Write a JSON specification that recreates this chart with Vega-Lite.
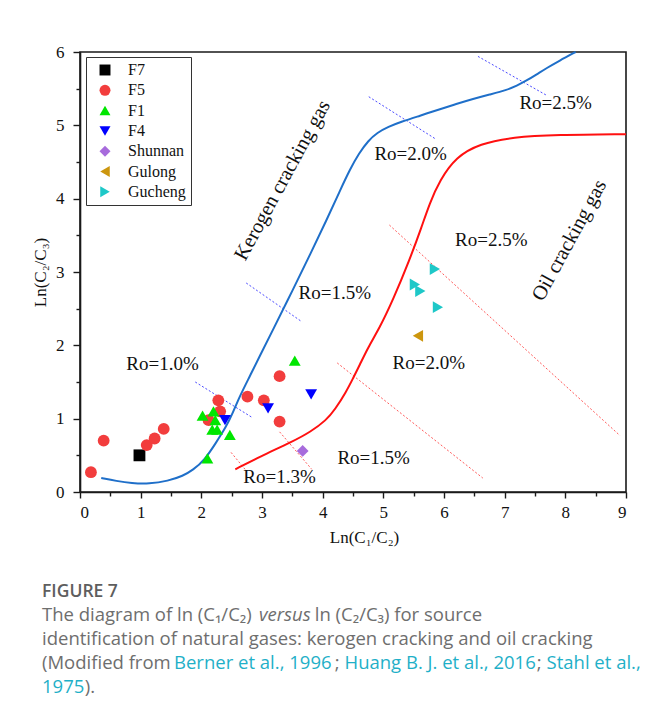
{
  "$schema": "https://vega.github.io/schema/vega-lite/v6.json",
  "width": 546,
  "height": 440,
  "autosize": {"type": "none"},
  "padding": {"left": 80, "top": 52, "right": 20, "bottom": 225},
  "background": "white",
  "config": {
    "view": {"stroke": "#1a1a1a", "strokeWidth": 1.6},
    "font": "Liberation Serif"
  },
  "datasets": {
    "points": [
      {"group": "F7", "x": 0.98, "y": 0.50},
      {"group": "F5", "x": 0.18, "y": 0.27},
      {"group": "F5", "x": 0.39, "y": 0.70},
      {"group": "F5", "x": 1.10, "y": 0.64},
      {"group": "F5", "x": 1.23, "y": 0.73},
      {"group": "F5", "x": 1.38, "y": 0.86},
      {"group": "F5", "x": 2.12, "y": 0.98},
      {"group": "F5", "x": 2.28, "y": 1.25},
      {"group": "F5", "x": 2.31, "y": 1.10},
      {"group": "F5", "x": 2.76, "y": 1.30},
      {"group": "F5", "x": 3.03, "y": 1.25},
      {"group": "F5", "x": 3.29, "y": 1.58},
      {"group": "F5", "x": 3.29, "y": 0.96},
      {"group": "F1", "x": 2.02, "y": 1.04},
      {"group": "F1", "x": 2.20, "y": 1.10},
      {"group": "F1", "x": 2.23, "y": 0.98},
      {"group": "F1", "x": 2.18, "y": 0.85},
      {"group": "F1", "x": 2.26, "y": 0.85},
      {"group": "F1", "x": 2.47, "y": 0.78},
      {"group": "F1", "x": 2.10, "y": 0.46},
      {"group": "F1", "x": 3.54, "y": 1.79},
      {"group": "F4", "x": 2.39, "y": 0.98},
      {"group": "F4", "x": 3.10, "y": 1.14},
      {"group": "F4", "x": 3.81, "y": 1.33},
      {"group": "Shunnan", "x": 3.67, "y": 0.56},
      {"group": "Gulong", "x": 5.57, "y": 2.13},
      {"group": "Gucheng", "x": 5.85, "y": 3.04},
      {"group": "Gucheng", "x": 5.52, "y": 2.83},
      {"group": "Gucheng", "x": 5.61, "y": 2.74},
      {"group": "Gucheng", "x": 5.90, "y": 2.52}
    ],
    "curves": [
      {"curve": "kerogen", "x": 0.35, "y": 0.19},
      {"curve": "kerogen", "x": 0.6, "y": 0.15},
      {"curve": "kerogen", "x": 0.85, "y": 0.12},
      {"curve": "kerogen", "x": 1.14, "y": 0.11},
      {"curve": "kerogen", "x": 1.45, "y": 0.15},
      {"curve": "kerogen", "x": 1.7, "y": 0.22},
      {"curve": "kerogen", "x": 1.86, "y": 0.30},
      {"curve": "kerogen", "x": 2.05, "y": 0.43},
      {"curve": "kerogen", "x": 2.24, "y": 0.67},
      {"curve": "kerogen", "x": 2.41, "y": 0.89},
      {"curve": "kerogen", "x": 2.52, "y": 1.08},
      {"curve": "kerogen", "x": 2.63, "y": 1.30},
      {"curve": "kerogen", "x": 2.8, "y": 1.58},
      {"curve": "kerogen", "x": 2.96, "y": 1.85},
      {"curve": "kerogen", "x": 3.18, "y": 2.21},
      {"curve": "kerogen", "x": 3.51, "y": 2.76},
      {"curve": "kerogen", "x": 3.8, "y": 3.25},
      {"curve": "kerogen", "x": 4.06, "y": 3.70},
      {"curve": "kerogen", "x": 4.28, "y": 4.10},
      {"curve": "kerogen", "x": 4.45, "y": 4.40},
      {"curve": "kerogen", "x": 4.6, "y": 4.62},
      {"curve": "kerogen", "x": 4.75, "y": 4.79},
      {"curve": "kerogen", "x": 4.9, "y": 4.90},
      {"curve": "kerogen", "x": 5.08, "y": 4.98},
      {"curve": "kerogen", "x": 5.3, "y": 5.05},
      {"curve": "kerogen", "x": 5.6, "y": 5.13},
      {"curve": "kerogen", "x": 5.93, "y": 5.22},
      {"curve": "kerogen", "x": 6.2, "y": 5.29},
      {"curve": "kerogen", "x": 6.48, "y": 5.36},
      {"curve": "kerogen", "x": 6.75, "y": 5.42},
      {"curve": "kerogen", "x": 7.03, "y": 5.48},
      {"curve": "kerogen", "x": 7.2, "y": 5.54},
      {"curve": "kerogen", "x": 7.36, "y": 5.61},
      {"curve": "kerogen", "x": 7.52, "y": 5.69},
      {"curve": "kerogen", "x": 7.69, "y": 5.78},
      {"curve": "kerogen", "x": 7.9, "y": 5.88},
      {"curve": "kerogen", "x": 8.17, "y": 6.0},
      {"curve": "oil", "x": 2.56, "y": 0.31},
      {"curve": "oil", "x": 2.96, "y": 0.48},
      {"curve": "oil", "x": 3.51, "y": 0.69},
      {"curve": "oil", "x": 3.8, "y": 0.82},
      {"curve": "oil", "x": 4.06, "y": 0.98},
      {"curve": "oil", "x": 4.2, "y": 1.12},
      {"curve": "oil", "x": 4.39, "y": 1.37},
      {"curve": "oil", "x": 4.5, "y": 1.55},
      {"curve": "oil", "x": 4.61, "y": 1.73},
      {"curve": "oil", "x": 4.74, "y": 1.96},
      {"curve": "oil", "x": 4.94, "y": 2.24},
      {"curve": "oil", "x": 5.16, "y": 2.62},
      {"curve": "oil", "x": 5.43, "y": 3.16},
      {"curve": "oil", "x": 5.63, "y": 3.61},
      {"curve": "oil", "x": 5.76, "y": 3.93},
      {"curve": "oil", "x": 5.93, "y": 4.25},
      {"curve": "oil", "x": 6.2, "y": 4.57},
      {"curve": "oil", "x": 6.59, "y": 4.75},
      {"curve": "oil", "x": 7.14, "y": 4.84},
      {"curve": "oil", "x": 7.85, "y": 4.87},
      {"curve": "oil", "x": 9.0, "y": 4.88}
    ],
    "guides": [
      {"family": "kerogen", "id": "k10", "x": 1.90, "y": 1.50},
      {"family": "kerogen", "id": "k10", "x": 2.85, "y": 1.01},
      {"family": "kerogen", "id": "k15", "x": 2.74, "y": 2.85},
      {"family": "kerogen", "id": "k15", "x": 3.66, "y": 2.32},
      {"family": "kerogen", "id": "k20", "x": 4.76, "y": 5.39},
      {"family": "kerogen", "id": "k20", "x": 5.85, "y": 4.82},
      {"family": "kerogen", "id": "k25", "x": 6.56, "y": 5.94},
      {"family": "kerogen", "id": "k25", "x": 7.69, "y": 5.41},
      {"family": "oil", "id": "o13a", "x": 2.49, "y": 0.54},
      {"family": "oil", "id": "o13a", "x": 2.72, "y": 0.31},
      {"family": "oil", "id": "o13b", "x": 3.29, "y": 0.82},
      {"family": "oil", "id": "o13b", "x": 3.82, "y": 0.31},
      {"family": "oil", "id": "o15", "x": 4.24, "y": 1.76},
      {"family": "oil", "id": "o15", "x": 6.64, "y": 0.19},
      {"family": "oil", "id": "o20", "x": 5.10, "y": 3.64},
      {"family": "oil", "id": "o20", "x": 8.90, "y": 0.77}
    ],
    "labels": [
      {"text": "Ro=1.0%", "x": 1.36, "y": 1.75},
      {"text": "Ro=1.5%", "x": 4.20, "y": 2.72},
      {"text": "Ro=2.0%", "x": 5.45, "y": 4.61},
      {"text": "Ro=2.5%", "x": 7.84, "y": 5.30},
      {"text": "Ro=1.3%", "x": 3.29, "y": 0.20},
      {"text": "Ro=1.5%", "x": 4.84, "y": 0.47},
      {"text": "Ro=2.0%", "x": 5.75, "y": 1.76},
      {"text": "Ro=2.5%", "x": 6.78, "y": 3.43}
    ],
    "zones": [
      {"text": "Kerogen cracking gas", "x": 3.34, "y": 4.25},
      {"text": "Oil cracking gas", "x": 8.07, "y": 3.43}
    ],
    "caption": [
      {"kind": "heading", "text": "FIGURE 7", "x": -0.626, "y": -1.428},
      {"kind": "body", "text": "The diagram of ln (C₁/C₂)", "x": -0.626, "y": -1.755},
      {"kind": "italic", "text": "versus", "x": 2.95, "y": -1.755},
      {"kind": "body", "text": "ln (C₂/C₃) for source", "x": 3.87, "y": -1.755},
      {"kind": "body", "text": "identification of natural gases: kerogen cracking and oil cracking", "x": -0.626, "y": -2.087},
      {"kind": "body", "text": "(Modified from", "x": -0.626, "y": -2.418},
      {"kind": "cite", "text": "Berner et al., 1996", "x": 1.55, "y": -2.418},
      {"kind": "body", "text": ";", "x": 4.2, "y": -2.418},
      {"kind": "cite", "text": "Huang B. J. et al., 2016", "x": 4.36, "y": -2.418},
      {"kind": "body", "text": ";", "x": 7.53, "y": -2.418},
      {"kind": "cite", "text": "Stahl et al.,", "x": 7.69, "y": -2.418},
      {"kind": "cite", "text": "1975", "x": -0.626, "y": -2.745},
      {"kind": "body", "text": ").", "x": 0.08, "y": -2.745}
    ]
  },
  "resolve": {"axis": {"x": "independent", "y": "independent"}},
  "layer": [
    {
      "mark": {"type": "rule", "color": "#dedede", "strokeWidth": 1.2},
      "encoding": {
        "x": {"datum": -1.168, "type": "quantitative", "axis": null},
        "y": {"datum": 6.545, "type": "quantitative", "axis": null},
        "y2": {"datum": -3.2}
      }
    },
    {
      "mark": {"type": "rule", "color": "#dedede", "strokeWidth": 1.2},
      "encoding": {
        "x": {"datum": -1.168, "type": "quantitative", "axis": null},
        "x2": {"datum": 9.5},
        "y": {"datum": 6.545, "type": "quantitative", "axis": null}
      }
    },
    {
      "data": {"name": "guides"},
      "transform": [{"filter": "datum.family === 'kerogen'"}],
      "mark": {"type": "line", "color": "#4a4aff", "strokeWidth": 1, "strokeDash": [2, 2]},
      "encoding": {
        "x": {"field": "x", "type": "quantitative", "scale": {"domain": [0, 9], "nice": false, "zero": false},
          "axis": {"orient": "bottom", "values": [0.5, 1.5, 2.5, 3.5, 4.5, 5.5, 6.5, 7.5, 8.5], "labels": false, "domain": false, "grid": false, "tickSize": 4, "tickColor": "#1a1a1a", "tickWidth": 1.4, "title": null}},
        "y": {"field": "y", "type": "quantitative", "scale": {"domain": [0, 6], "nice": false, "zero": false},
          "axis": {"orient": "left", "values": [0.5, 1.5, 2.5, 3.5, 4.5, 5.5], "labels": false, "domain": false, "grid": false, "tickSize": 4, "tickColor": "#1a1a1a", "tickWidth": 1.4, "title": null}},
        "detail": {"field": "id"}
      }
    },
    {
      "data": {"name": "guides"},
      "transform": [{"filter": "datum.family === 'oil'"}],
      "mark": {"type": "line", "color": "#ff5a5a", "strokeWidth": 1, "strokeDash": [2, 2]},
      "encoding": {
        "x": {"field": "x", "type": "quantitative", "axis": null},
        "y": {"field": "y", "type": "quantitative", "axis": null},
        "detail": {"field": "id"}
      }
    },
    {
      "data": {"name": "curves"},
      "transform": [{"filter": "datum.curve === 'kerogen'"}],
      "mark": {"type": "line", "color": "#1f6fc9", "strokeWidth": 2, "interpolate": "basis"},
      "encoding": {
        "x": {"field": "x", "type": "quantitative", "axis": null},
        "y": {"field": "y", "type": "quantitative", "axis": null}
      }
    },
    {
      "data": {"name": "curves"},
      "transform": [{"filter": "datum.curve === 'oil'"}],
      "mark": {"type": "line", "color": "#ff1010", "strokeWidth": 2, "interpolate": "basis"},
      "encoding": {
        "x": {"field": "x", "type": "quantitative", "axis": null},
        "y": {"field": "y", "type": "quantitative", "axis": null}
      }
    },
    {
      "data": {"name": "labels"},
      "mark": {"type": "text", "font": "Liberation Serif", "fontSize": 19, "color": "#111", "align": "center", "baseline": "middle"},
      "encoding": {
        "x": {"field": "x", "type": "quantitative", "axis": null},
        "y": {"field": "y", "type": "quantitative", "axis": null},
        "text": {"field": "text"}
      }
    },
    {
      "data": {"name": "zones"},
      "mark": {"type": "text", "font": "Liberation Serif", "fontSize": 20.5, "color": "#111", "align": "center", "baseline": "middle", "angle": 298.5},
      "encoding": {
        "x": {"field": "x", "type": "quantitative", "axis": null},
        "y": {"field": "y", "type": "quantitative", "axis": null},
        "text": {"field": "text"}
      }
    },
    {
      "data": {"name": "points"},
      "mark": {"type": "point", "filled": true, "opacity": 1, "size": 140, "strokeWidth": 0},
      "encoding": {
        "x": {"field": "x", "type": "quantitative", "scale": {"domain": [0, 9], "nice": false, "zero": false},
          "axis": {"orient": "bottom", "values": [0, 1, 2, 3, 4, 5, 6, 7, 8, 9], "grid": false, "domainColor": "#1a1a1a", "domainWidth": 1.6, "tickColor": "#1a1a1a", "tickWidth": 1.4, "tickSize": 6, "labelFont": "Liberation Serif", "labelFontSize": 17, "labelColor": "#111", "labelPadding": 6, "title": "Ln(C₁/C₂)", "titleFont": "Liberation Serif", "titleFontSize": 17, "titleFontWeight": "normal", "titleColor": "#111", "titlePadding": 9, "titleX": 284}},
        "y": {"field": "y", "type": "quantitative", "scale": {"domain": [0, 6], "nice": false, "zero": false},
          "axis": {"orient": "left", "values": [0, 1, 2, 3, 4, 5, 6], "grid": false, "domainColor": "#1a1a1a", "domainWidth": 1.6, "tickColor": "#1a1a1a", "tickWidth": 1.4, "tickSize": 7, "labelFont": "Liberation Serif", "labelFontSize": 17, "labelColor": "#111", "labelPadding": 9, "title": "Ln(C₂/C₃)", "titleFont": "Liberation Serif", "titleFontSize": 17, "titleFontWeight": "normal", "titleColor": "#111", "titlePadding": 6}},
        "color": {"field": "group", "type": "nominal",
          "scale": {"domain": ["F7", "F5", "F1", "F4", "Shunnan", "Gulong", "Gucheng"], "range": ["#000000", "#f23d3d", "#00e600", "#0000ff", "#a76bdc", "#cc960e", "#1ec8c8"]},
          "legend": {"orient": "none", "legendX": 6, "legendY": 5, "title": null, "strokeColor": "#333", "fillColor": "white", "padding": 5, "rowPadding": 4.3, "symbolOffset": 6, "labelOffset": 15, "labelFont": "Liberation Serif", "labelFontSize": 16, "labelColor": "#111", "symbolSize": 120, "symbolStrokeWidth": 0, "labelLimit": 200}},
        "shape": {"field": "group", "type": "nominal",
          "scale": {"domain": ["F7", "F5", "F1", "F4", "Shunnan", "Gulong", "Gucheng"], "range": ["square", "circle", "triangle-up", "triangle-down", "diamond", "triangle-left", "triangle-right"]}}
      }
    },
    {
      "data": {"name": "caption"},
      "transform": [{"filter": "datum.kind === 'heading'"}],
      "mark": {"type": "text", "font": "Open Sans", "fontSize": 17.5, "fontWeight": 600, "color": "#5e5e5e", "align": "left", "baseline": "alphabetic"},
      "encoding": {
        "x": {"field": "x", "type": "quantitative", "axis": null},
        "y": {"field": "y", "type": "quantitative", "axis": null},
        "text": {"field": "text"}
      }
    },
    {
      "data": {"name": "caption"},
      "transform": [{"filter": "datum.kind === 'body'"}],
      "mark": {"type": "text", "font": "Open Sans", "fontSize": 18.5, "color": "#6e6e6e", "align": "left", "baseline": "alphabetic"},
      "encoding": {
        "x": {"field": "x", "type": "quantitative", "axis": null},
        "y": {"field": "y", "type": "quantitative", "axis": null},
        "text": {"field": "text"}
      }
    },
    {
      "data": {"name": "caption"},
      "transform": [{"filter": "datum.kind === 'italic'"}],
      "mark": {"type": "text", "font": "Open Sans", "fontSize": 18.5, "fontStyle": "italic", "color": "#6e6e6e", "align": "left", "baseline": "alphabetic"},
      "encoding": {
        "x": {"field": "x", "type": "quantitative", "axis": null},
        "y": {"field": "y", "type": "quantitative", "axis": null},
        "text": {"field": "text"}
      }
    },
    {
      "data": {"name": "caption"},
      "transform": [{"filter": "datum.kind === 'cite'"}],
      "mark": {"type": "text", "font": "Open Sans", "fontSize": 18.5, "color": "#1fb0c8", "align": "left", "baseline": "alphabetic"},
      "encoding": {
        "x": {"field": "x", "type": "quantitative", "axis": null},
        "y": {"field": "y", "type": "quantitative", "axis": null},
        "text": {"field": "text"}
      }
    }
  ]
}
